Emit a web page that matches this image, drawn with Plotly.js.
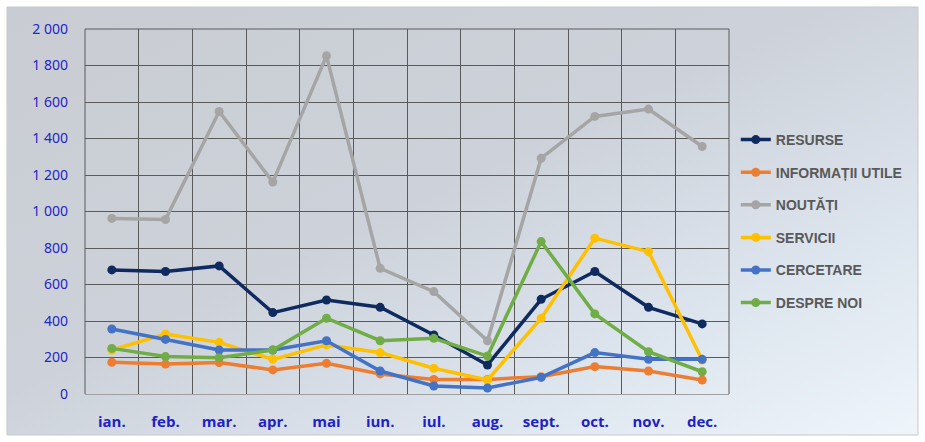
<!DOCTYPE html>
<html>
<head>
<meta charset="utf-8">
<script src="https://cdn.plot.ly/plotly-3.0.1.min.js"></script>
<style>html,body{margin:0;padding:0;background:#fff;}#chart{width:925px;height:442px;}</style>
</head>
<body>
<div id="chart"></div>
<script>
const months = ["ian.","feb.","mar.","apr.","mai","iun.","iul.","aug.","sept.","oct.","nov.","dec."];
const seriesNames = ["RESURSE","INFORMAȚII UTILE","NOUTĂȚI","SERVICII","CERCETARE","DESPRE NOI"];
const resurse   = [680, 671, 702, 446, 515, 475, 323, 159, 519, 671, 475, 384];
const informatii= [174, 164, 172, 132, 168, 110,  80,  80,  95, 150, 126,  77];
const noutati   = [962, 956, 1548, 1161, 1853, 689, 561, 292, 1292, 1521, 1561, 1356];
const servicii  = [241, 329, 283, 190, 269, 227, 141,  77, 415, 854, 780, 186];
const cercetare = [356, 299, 241, 241, 292, 126,  44,  33,  91, 227, 190, 190];
const despre    = [250, 205, 199, 241, 415, 292, 305, 208, 835, 439, 232, 122];
const yTicks = [0,200,400,600,800,1000,1200,1400,1600,1800,2000];

const values = [resurse, informatii, noutati, servicii, cercetare, despre];
const colors = ["#0f2a5e","#ed7d31","#a5a5a5","#ffc000","#4472c4","#70ad47"];

const traces = values.map((v,i)=>({
  type:"scatter", mode:"lines+markers",
  x: months, y: v, name: seriesNames[i],
  legendgroup: "g"+i,
  line:{color:colors[i], width:3.5},
  marker:{color:colors[i], size:9},
  hoverinfo:"skip"
}));

const bgSvg = '<svg xmlns="http://www.w3.org/2000/svg" width="925" height="442">' +
  '<defs><linearGradient id="g" x1="0" y1="0" x2="1" y2="1">' +
  '<stop offset="0" stop-color="#c9ccd2"/><stop offset="0.45" stop-color="#cdd2da"/>' +
  '<stop offset="0.75" stop-color="#dde5ee"/><stop offset="1" stop-color="#eef5fb"/>' +
  '</linearGradient></defs><rect width="925" height="442" fill="url(#g)"/></svg>';
const bgUrl = "data:image/svg+xml;charset=utf-8," + encodeURIComponent(bgSvg);

const L=85, R=729, T=29, B=394, W=925, H=442;
const pw=R-L, ph=B-T;

const layout = {
  width:W, height:H,
  margin:{l:L, r:W-R, t:T, b:H-B, pad:0},
  paper_bgcolor:"#ffffff",
  plot_bgcolor:"rgba(0,0,0,0)",
  separators:". ",
  showlegend:true,
  images:[{source:bgUrl, xref:"paper", yref:"paper",
    x:(7-L)/pw, y:1+(T-7)/ph, sizex:(W-14)/pw, sizey:(H-14)/ph,
    xanchor:"left", yanchor:"top", sizing:"stretch", layer:"below"}],
  shapes:[
    {type:"rect", xref:"paper", yref:"paper",
     x0:(7-L)/pw, x1:(W-7-L)/pw, y0:-(H-7-B)/ph, y1:1+(T-7)/ph,
     line:{color:"#c8c8c8", width:1}, layer:"below"},
    {type:"line", xref:"paper", yref:"paper", x0:0, x1:1, y0:1, y1:1,
     line:{color:"#5a5a5a", width:1}, layer:"below"},
    {type:"line", xref:"paper", yref:"paper", x0:1, x1:1, y0:0, y1:1,
     line:{color:"#5a5a5a", width:1}, layer:"below"},
    {type:"line", xref:"paper", yref:"paper", x0:0, x1:0, y0:0, y1:1,
     line:{color:"#5a5a5a", width:1}, layer:"below"}
  ],
  xaxis:{
    type:"category", tickson:"boundaries",
    showgrid:true, gridcolor:"#5a5a5a", gridwidth:1,
    showline:true, linecolor:"#a0a0a0", linewidth:1,
    mirror:false, ticks:"", zeroline:false,
    range:[-0.5, 11.5], fixedrange:true,
    tickfont:{family:"Open Sans, Noto Sans, sans-serif", size:15, color:"#1f1fc8", weight:"bold"},
    ticklabelstandoff:14
  },
  yaxis:{
    range:[0,2000], tickvals:yTicks, tickformat:",d",
    showgrid:true, gridcolor:"#5a5a5a", gridwidth:1,
    showline:false,
    zeroline:false, ticks:"",
    tickfont:{family:"Noto Sans, Open Sans, sans-serif", size:14, color:"#2424c8"},
    ticklabelstandoff:16
  },
  legend:{
    x:(739-L)/pw - 0.005, y:(B-124)/ph, xanchor:"left", yanchor:"top",
    bgcolor:"rgba(0,0,0,0)", borderwidth:0,
    font:{family:"Liberation Sans, Arial, sans-serif", size:14, color:"#595959", weight:"bold"},
    tracegroupgap:11.4, itemwidth:30
  }
};

Plotly.newPlot("chart", traces, layout, {displayModeBar:false, staticPlot:true});
</script>
</body>
</html>
